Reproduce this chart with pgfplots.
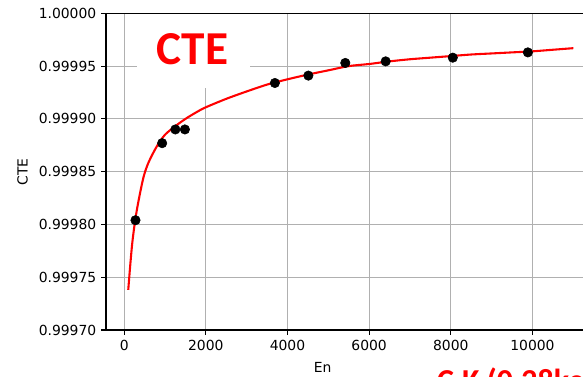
\documentclass[border=0pt]{standalone}
\usepackage{pgfplots}
\pgfplotsset{compat=1.18}
\usepackage{fontspec}
\setmainfont{DejaVu Sans}
\newfontfamily\headfont{Carlito}

% measured CTE per X-ray line energy (eV)
\pgfplotstableread{
E      cte
277    0.999804
930    0.999877
1254   0.999890
1487   0.999890
3691   0.999934
4511   0.999941
5415   0.999953
6404   0.9999545
8048   0.999958
9886   0.999963
}\measured

% fitted CTE curve
\pgfplotstableread{
E      cte
100    0.999738
150    0.999762
200    0.999783
270    0.999804
350    0.999822
475    0.999845
600    0.999859
800    0.999874
1000   0.999885
1250   0.999893
1500   0.999900
1800   0.999907
2000   0.999911
2500   0.999919
3000   0.999926
3500   0.9999325
4000   0.9999375
4500   0.999942
5000   0.999946
5500   0.999950
6000   0.999952
6500   0.9999545
7000   0.9999565
7500   0.999958
8000   0.9999595
8500   0.999961
9000   0.999962
9500   0.999963
10000  0.999964
10500  0.9999655
11000  0.999967
}\fitcurve

\definecolor{gridgray}{HTML}{B0B0B0}

\begin{document}
\begin{tikzpicture}[x=1pt,y=1pt]
\useasboundingbox (0,0) rectangle (419.76,270.72);
\clip (0,0) rectangle (419.76,270.72);
\begin{axis}[
  scale only axis,
  width=352.5pt, height=228pt,
  at={(76.32pt,33.12pt)}, anchor=south west,
  xmin=-445, xmax=11545,
  ymin=0.9997, ymax=1.0,
  xtick={0,2000,4000,6000,8000,10000},
  xticklabels={0,2000,4000,6000,8000,10000},
  ytick={0.9997,0.99975,0.9998,0.99985,0.9999,0.99995,1.0},
  yticklabels={0.99970,0.99975,0.99980,0.99985,0.99990,0.99995,1.00000},
  scaled ticks=false,
  tick align=outside, tick pos=left,
  major tick length=3.5pt,
  every tick/.style={black, line width=0.8pt},
  axis line style={black, line width=0.8pt},
  grid=major,
  major grid style={gridgray, line width=0.8pt},
  font=\fontsize{10}{12}\selectfont,
  ticklabel style={font=\fontsize{10}{12}\selectfont},
  clip=false,
]
\addplot[only marks, mark=*, mark size=3.4pt, black, mark options={fill=black}]
  table[x=E, y=cte] {\measured};
\addplot[red, line width=1.5pt, smooth] table[x=E, y=cte] {\fitcurve};
\end{axis}

% title box inside the axes
\fill[white] (98.64,207.36) rectangle (180.0,260.4);
\node[anchor=base, text=red, inner sep=0pt, font=\headfont\bfseries\fontsize{34}{40}\selectfont]
  at (138.6,223.92) {CTE};

% axis labels
\node[rotate=90, inner sep=0pt, font=\fontsize{10}{12}\selectfont] at (16.3,147.0) {CTE};
\node[anchor=base, inner sep=0pt, font=\fontsize{10}{12}\selectfont] at (255.5,2.88) {Energy (eV)};

% line label with its white box
\fill[white] (239.0,15.1) rectangle (430,-40);
\node[anchor=base west, text=red, inner sep=0pt, font=\headfont\bfseries\fontsize{23}{28}\selectfont]
  at (314.6,-11.2) {C-K (0.28keV)};
\end{tikzpicture}
\end{document}
